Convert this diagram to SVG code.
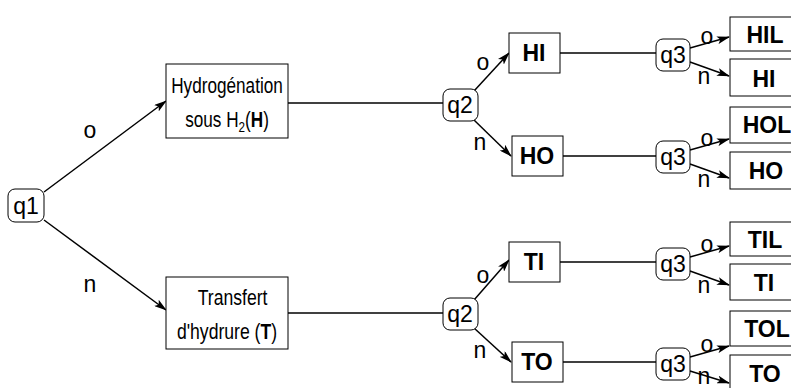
<svg xmlns="http://www.w3.org/2000/svg" width="791" height="388" viewBox="0 0 791 388">
<style>
.box{fill:#fff;stroke:#000;stroke-width:1}
.q{fill:#fff;stroke:#000;stroke-width:1}
text{font-family:"Liberation Sans",Arial,sans-serif;font-size:23px;fill:#000}
.b{font-weight:bold;font-size:23px}
.bt{font-size:22px}
.m{text-anchor:middle}
.ln{stroke:#000;stroke-width:1.5;fill:none}
</style>
<defs>
<marker id="ah" markerWidth="13" markerHeight="8" refX="12" refY="4" orient="auto" markerUnits="userSpaceOnUse">
<path d="M0,0 L13,4 L0,8 L3,4 Z" fill="#000"/>
</marker>
</defs>
<rect width="791" height="388" fill="#fff"/>
<g id="connectors">
<line class="ln" x1="44" y1="192" x2="166" y2="101" marker-end="url(#ah)"/>
<line class="ln" x1="44" y1="220" x2="166" y2="310" marker-end="url(#ah)"/>
<line class="ln" x1="288" y1="103" x2="443" y2="103"/>
<line class="ln" x1="288" y1="313" x2="443" y2="313"/>
<line class="ln" x1="474" y1="91" x2="509" y2="53" marker-end="url(#ah)"/>
<line class="ln" x1="474" y1="120" x2="511" y2="156" marker-end="url(#ah)"/>
<line class="ln" x1="474" y1="300" x2="509" y2="260" marker-end="url(#ah)"/>
<line class="ln" x1="474" y1="328" x2="511" y2="362" marker-end="url(#ah)"/>
<line class="ln" x1="560" y1="53" x2="656" y2="53"/>
<line class="ln" x1="563" y1="156" x2="656" y2="156"/>
<line class="ln" x1="560" y1="262" x2="656" y2="262"/>
<line class="ln" x1="563" y1="362" x2="656" y2="362"/>
<line class="ln" x1="690" y1="48" x2="729" y2="37" marker-end="url(#ah)"/>
<line class="ln" x1="690" y1="62" x2="729" y2="76" marker-end="url(#ah)"/>
<line class="ln" x1="690" y1="150" x2="729" y2="139" marker-end="url(#ah)"/>
<line class="ln" x1="690" y1="164" x2="729" y2="178" marker-end="url(#ah)"/>
<line class="ln" x1="690" y1="257" x2="729" y2="246" marker-end="url(#ah)"/>
<line class="ln" x1="690" y1="271" x2="729" y2="285" marker-end="url(#ah)"/>
<line class="ln" x1="690" y1="357" x2="729" y2="346" marker-end="url(#ah)"/>
<line class="ln" x1="690" y1="371" x2="729" y2="383" marker-end="url(#ah)"/>
<text x="90" y="138" class="m">o</text>
<text x="90" y="292" class="m">n</text>
<text x="483" y="70" class="m">o</text>
<text x="480" y="150" class="m">n</text>
<text x="483" y="283" class="m">o</text>
<text x="480" y="358" class="m">n</text>
<text x="707" y="44" class="m">o</text>
<text x="704" y="84" class="m">n</text>
<text x="707" y="146" class="m">o</text>
<text x="704" y="187" class="m">n</text>
<text x="707" y="252" class="m">o</text>
<text x="704" y="293" class="m">n</text>
<text x="707" y="352" class="m">o</text>
<text x="704" y="384" class="m">n</text>
</g>
<g id="q1"><rect class="q" x="8" y="189" width="36" height="33" rx="7"/><text x="26" y="214" class="m">q1</text></g>
<g id="hydrogenation"><rect class="box" x="166" y="64" width="122" height="74"/>
<g transform="translate(227,0) scale(0.78,1)">
<text x="0" y="93" class="m bt">Hydrogénation</text>
<text x="0" y="127" class="m bt">sous H<tspan font-size="15" dy="5">2</tspan><tspan dy="-5">(</tspan><tspan font-weight="bold">H</tspan>)</text>
</g></g>
<g id="transfert"><rect class="box" x="166" y="277" width="122" height="72"/>
<g transform="translate(227,0) scale(0.8,1)">
<text x="7" y="305" class="m bt">Transfert</text>
<text x="0" y="339" class="m bt">d'hydrure (<tspan font-weight="bold">T</tspan>)</text>
</g></g>
<g id="q2a"><rect class="q" x="443" y="89" width="35" height="32" rx="7"/><text x="460" y="113" class="m">q2</text></g>
<g id="q2b"><rect class="q" x="443" y="298" width="35" height="32" rx="7"/><text x="460" y="322" class="m">q2</text></g>
<g id="HI"><rect class="box" x="509" y="33" width="51" height="40"/><text x="534" y="61" class="m b">HI</text></g>
<g id="HO"><rect class="box" x="512" y="136" width="51" height="40"/><text x="537" y="164" class="m b">HO</text></g>
<g id="TI"><rect class="box" x="509" y="242" width="51" height="40"/><text x="534" y="270" class="m b">TI</text></g>
<g id="TO"><rect class="box" x="512" y="342" width="51" height="40"/><text x="537" y="370" class="m b">TO</text></g>
<g id="q3a"><rect class="q" x="656" y="39" width="34" height="32" rx="7"/><text x="673" y="63" class="m">q3</text></g>
<g id="q3b"><rect class="q" x="656" y="141" width="34" height="32" rx="7"/><text x="673" y="165" class="m">q3</text></g>
<g id="q3c"><rect class="q" x="656" y="248" width="34" height="32" rx="7"/><text x="673" y="272" class="m">q3</text></g>
<g id="q3d"><rect class="q" x="656" y="348" width="34" height="32" rx="7"/><text x="673" y="372" class="m">q3</text></g>
<g id="HIL"><rect class="box" x="730" y="17" width="70" height="34"/><text x="765" y="43" class="m b">HIL</text></g>
<g id="HI2"><rect class="box" x="730" y="59" width="70" height="37"/><text x="764" y="87" class="m b">HI</text></g>
<g id="HOL"><rect class="box" x="730" y="107" width="70" height="36"/><text x="767" y="133" class="m b">HOL</text></g>
<g id="HO2"><rect class="box" x="730" y="152" width="70" height="37"/><text x="766" y="179" class="m b">HO</text></g>
<g id="TIL"><rect class="box" x="730" y="222" width="70" height="34"/><text x="765" y="248" class="m b">TIL</text></g>
<g id="TI2"><rect class="box" x="730" y="264" width="70" height="36"/><text x="764" y="291" class="m b">TI</text></g>
<g id="TOL"><rect class="box" x="730" y="311" width="70" height="35"/><text x="767" y="337" class="m b">TOL</text></g>
<g id="TO2"><rect class="box" x="730" y="355" width="70" height="40"/><text x="765" y="382" class="m b">TO</text></g>
</svg>
